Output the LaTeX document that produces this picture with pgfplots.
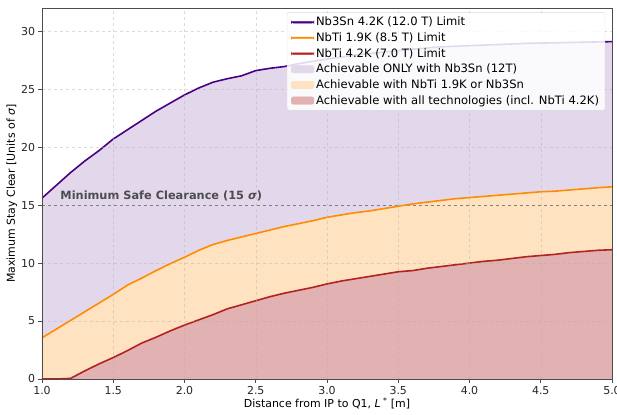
\documentclass[border=0pt]{standalone}
\usepackage{fontspec}
\setmainfont{DejaVu Sans}
\usepackage{pgfplots}
\pgfplotsset{compat=1.18}
\usepackage{pgfplotstable}

\definecolor{cSn}{HTML}{4B0082}
\definecolor{cOr}{HTML}{FF8C00}
\definecolor{cRd}{HTML}{B22222}
\definecolor{fSn}{HTML}{E3D8EB}
\definecolor{fOr}{HTML}{FFE2C0}
\definecolor{fRd}{HTML}{E2B1B1}
\definecolor{gridc}{HTML}{B0B0B0}

\pgfplotstableread{
x y
1.0 15.6
1.1 16.7
1.2 17.8
1.3 18.8
1.4 19.7
1.5 20.7
1.6 21.5
1.7 22.3
1.8 23.1
1.9 23.8
2.0 24.5
2.1 25.1
2.2 25.6
2.3 25.9
2.4 26.15
2.5 26.6
2.6 26.8
2.7 26.95
2.8 27.2
2.9 27.4
3.0 27.6
3.2 27.95
3.4 28.2
3.6 28.45
3.8 28.65
4.0 28.75
4.2 28.85
4.4 28.95
4.6 29.0
4.8 29.05
5.0 29.1
}\nbsn

\pgfplotstableread{
x y
1.0 3.55
1.1 4.3
1.2 5.05
1.3 5.8
1.4 6.55
1.5 7.3
1.6 8.1
1.7 8.7
1.8 9.35
1.9 9.95
2.0 10.5
2.1 11.1
2.2 11.6
2.3 11.95
2.4 12.25
2.5 12.55
2.6 12.85
2.7 13.15
2.8 13.4
2.9 13.65
3.0 13.95
3.1 14.15
3.2 14.35
3.3 14.5
3.4 14.7
3.5 14.9
3.6 15.1
3.7 15.25
3.8 15.4
3.9 15.55
4.0 15.65
4.1 15.75
4.2 15.85
4.3 15.95
4.4 16.05
4.5 16.15
4.6 16.2
4.7 16.3
4.8 16.4
4.9 16.5
5.0 16.58
}\nbtia

\pgfplotstableread{
x y
1.0 0
1.1 0
1.2 0.05
1.3 0.7
1.4 1.3
1.5 1.85
1.6 2.45
1.7 3.1
1.8 3.6
1.9 4.15
2.0 4.65
2.1 5.1
2.2 5.55
2.3 6.05
2.4 6.4
2.5 6.75
2.6 7.1
2.7 7.4
2.8 7.65
2.9 7.9
3.0 8.2
3.1 8.45
3.2 8.65
3.3 8.85
3.4 9.05
3.5 9.25
3.6 9.35
3.7 9.55
3.8 9.7
3.9 9.85
4.0 10.0
4.1 10.15
4.2 10.25
4.3 10.4
4.4 10.55
4.5 10.65
4.6 10.75
4.7 10.9
4.8 11.0
4.9 11.1
5.0 11.15
}\nbtib

\begin{document}
\begin{tikzpicture}
\begin{axis}[
  name=ax,
  scale only axis,
  width=570bp, height=371bp,
  xmin=1, xmax=5, ymin=0, ymax=32,
  xtick={1.0,1.5,...,5.0},
  ytick={0,5,...,30},
  xticklabel style={/pgf/number format/.cd,fixed,fixed zerofill,precision=1},
  /pgf/number format/assume math mode=true,
  tick label style={font=\fontsize{11}{13}\selectfont, text=black!85},
  label style={font=\fontsize{11}{13}\selectfont},
  tick align=outside,
  tick style={draw=black!70, line width=0.6pt},
  major tick length=3.5bp,
  xtick pos=bottom, ytick pos=left,
  axis line style={draw=black!70, line width=0.7pt},
  grid=major,
  major grid style={dashed, draw=gridc, draw opacity=0.45, line width=0.5pt},
  axis on top,
  xlabel={Distance from IP to Q1, \textit{L}\textsuperscript{ *} [m]},
  ylabel={Maximum Stay Clear [Units of \textit{σ}]},
  xlabel style={yshift=3bp},
  ylabel style={yshift=-3bp},
  legend style={at={(0.988,0.988)}, anchor=north east, font=\fontsize{11.6}{13.5}\selectfont,
    draw=black!15, fill=white, fill opacity=0.85, text opacity=1, rounded corners=2pt,
    row sep=1.4bp, inner xsep=4bp, inner ysep=2.5bp},
  legend cell align=left,
]
\addplot[draw=none, fill=fSn, forget plot] table {\nbsn} \closedcycle;
\addplot[draw=none, fill=fOr, forget plot] table {\nbtia} \closedcycle;
\addplot[draw=none, fill=fRd, forget plot] table {\nbtib} \closedcycle;
\addplot[draw=black!65, dashed, line width=1pt, forget plot] coordinates {(1,15) (5,15)};
\addplot[draw=cSn, line width=1.6pt, forget plot] table {\nbsn};
\addplot[draw=cOr, line width=1.6pt, forget plot] table {\nbtia};
\addplot[draw=cRd, line width=1.6pt, forget plot] table {\nbtib};
\addlegendimage{legend image code/.code={\fill[cSn, fill opacity=1] (0cm,-0.8pt) rectangle (0.8cm,0.8pt);}}
\addlegendentry{Nb3Sn 4.2K (12.0 T) Limit}
\addlegendimage{legend image code/.code={\fill[cOr, fill opacity=1] (0cm,-0.8pt) rectangle (0.8cm,0.8pt);}}
\addlegendentry{NbTi 1.9K (8.5 T) Limit}
\addlegendimage{legend image code/.code={\fill[cRd, fill opacity=1] (0cm,-0.8pt) rectangle (0.8cm,0.8pt);}}
\addlegendentry{NbTi 4.2K (7.0 T) Limit}
\addlegendimage{legend image code/.code={\fill[fSn, fill opacity=1] (0cm,-0.13cm) rectangle (0.8cm,0.13cm);}}
\addlegendentry{Achievable ONLY with Nb3Sn (12T)}
\addlegendimage{legend image code/.code={\fill[fOr, fill opacity=1] (0cm,-0.13cm) rectangle (0.8cm,0.13cm);}}
\addlegendentry{Achievable with NbTi 1.9K or Nb3Sn}
\addlegendimage{legend image code/.code={\fill[fRd, fill opacity=1] (0cm,-0.13cm) rectangle (0.8cm,0.13cm);}}
\addlegendentry{Achievable with all technologies (incl. NbTi 4.2K)}
\node[anchor=base west, font=\bfseries\fontsize{11.4}{13}\selectfont, text=black!70] at (axis cs:1.105,15.45) {Minimum Safe Clearance (15 \textit{σ})};
\end{axis}
\pgfresetboundingbox
\path[use as bounding box] ([xshift=-42bp,yshift=-36bp]ax.south west) rectangle ([xshift=5bp,yshift=8bp]ax.north east);
\end{tikzpicture}
\end{document}
